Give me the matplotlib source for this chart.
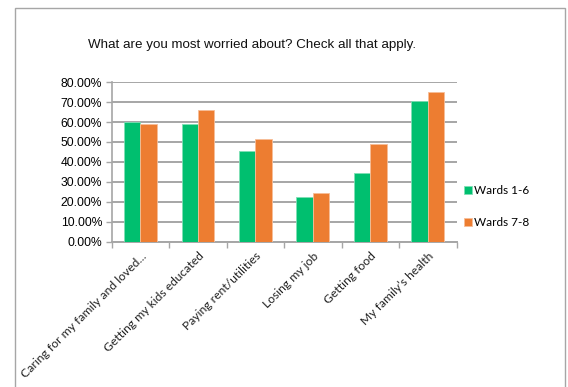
"""
Grouped bar chart: what residents are most worried about, by ward group.
"""

import matplotlib
matplotlib.use("Agg")
import matplotlib.pyplot as plt
from matplotlib.patches import Rectangle
from matplotlib.ticker import FuncFormatter
import numpy as np

categories = [
    "Caring for my family and loved...",
    "Getting my kids educated",
    "Paying rent/utilities",
    "Losing my job",
    "Getting food",
    "My family\u2019s health",
]
wards_1_6 = [60.0, 58.9, 45.7, 22.5, 34.7, 70.5]
wards_7_8 = [58.9, 66.0, 51.7, 24.5, 49.2, 75.0]
series_names = ["Wards 1-6", "Wards 7-8"]

GREEN = "#00BF6F"
ORANGE = "#ED7D31"
GRID = "#A6A6A6"


def plot_chart():
    fig = plt.figure(figsize=(5.68, 3.87), dpi=100)
    ax = fig.add_axes([0.1967, 0.3747, 0.607, 0.4134])

    x = np.arange(len(categories))
    w = 0.285
    ax.bar(x - w / 2, wards_1_6, w, color=GREEN, edgecolor="#7FE0B5",
           linewidth=0.6, label=series_names[0], zorder=3)
    ax.bar(x + w / 2, wards_7_8, w, color=ORANGE, edgecolor="#F7BE98",
           linewidth=0.6, label=series_names[1], zorder=3)

    ax.set_xlim(-0.5, len(categories) - 0.5)
    ax.set_ylim(0, 80)
    ax.set_yticks(np.arange(0, 81, 10))
    ax.yaxis.set_major_formatter(FuncFormatter(lambda v, p: f"{v:.2f}%"))
    ax.grid(axis="y", color=GRID, linewidth=1.4, zorder=0)

    ax.set_xticks(x)
    ax.set_xticklabels(categories, rotation=45, ha="right",
                       rotation_mode="anchor", fontsize=8.7,
                       family="Lato", color="#222222")
    ax.set_xticks(np.arange(-0.5, len(categories)), minor=True)
    ax.tick_params(axis="x", which="major", length=0, pad=6)
    ax.tick_params(axis="x", which="minor", length=4, color=GRID, width=1)
    ax.tick_params(axis="y", length=4, color=GRID, width=1, labelsize=8.7,
                   pad=3)
    for lab in ax.get_yticklabels():
        lab.set_family("Liberation Sans")

    for side in ["top", "right"]:
        ax.spines[side].set_visible(False)
    ax.spines["left"].set_color(GRID)
    ax.spines["left"].set_linewidth(1.2)
    ax.spines["bottom"].set_color(GRID)
    ax.spines["bottom"].set_linewidth(1.4)

    fig.text(0.444, 0.884, "What are you most worried about? Check all that apply.",
             ha="center", va="center", fontsize=9.6, family="Liberation Sans",
             color="#111111")

    fig.legend(loc="center left", bbox_to_anchor=(0.799, 0.466),
               frameon=False, handlelength=0.6, handleheight=0.6,
               handletextpad=0.2, labelspacing=1.75,
               prop={"family": "Lato", "size": 8.5})

    fig.add_artist(Rectangle((15 / 568, -0.02), 550 / 568, 1 - 8 / 387 + 0.02,
                             transform=fig.transFigure, fill=False,
                             edgecolor="#A6A6A6", linewidth=1))

    fig.savefig("out.png", dpi=100)


if __name__ == "__main__":
    plot_chart()
